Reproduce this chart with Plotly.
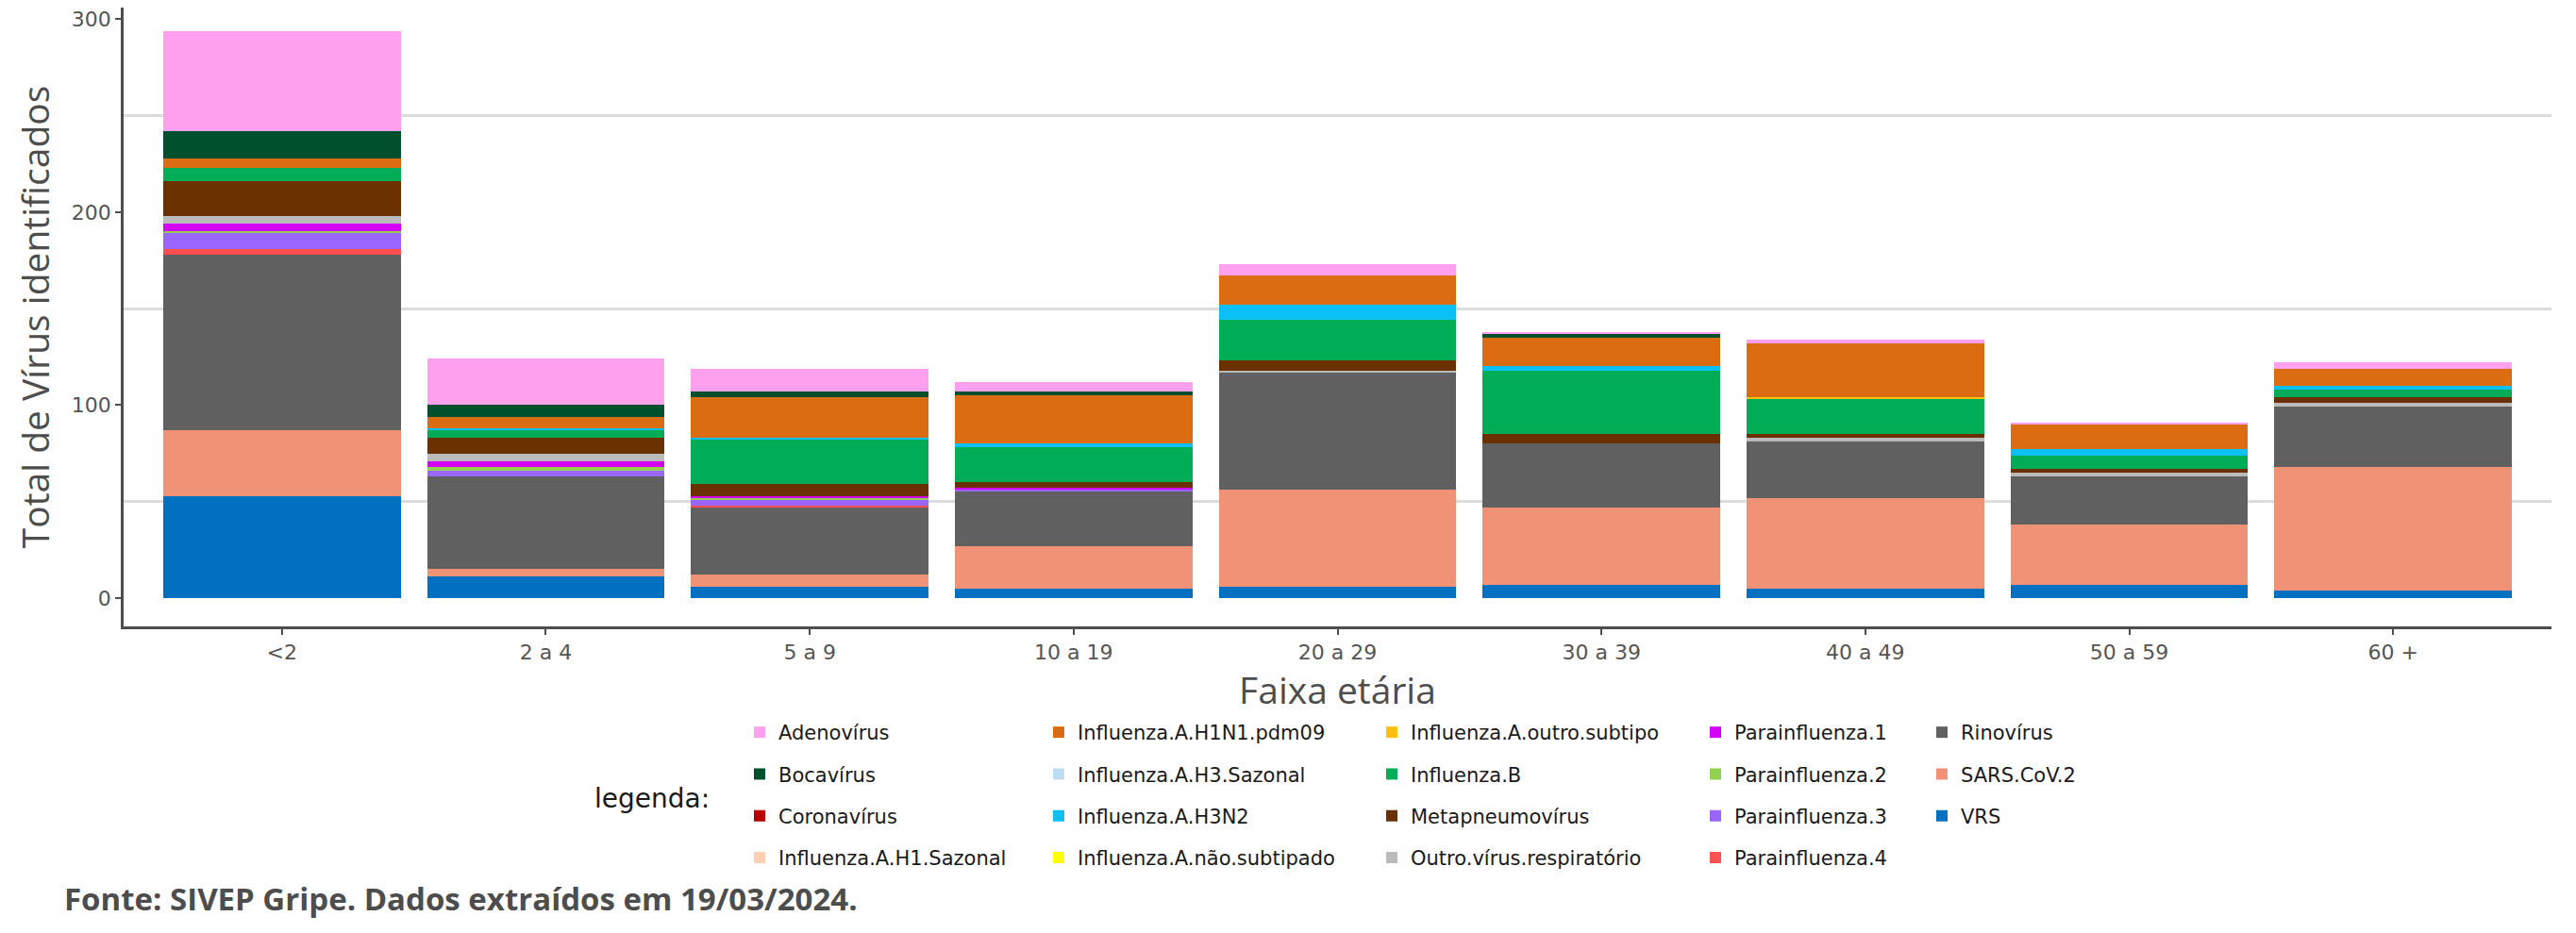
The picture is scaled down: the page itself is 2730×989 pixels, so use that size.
import plotly.graph_objects as go

faixas = ["<2", "2 a 4", "5 a 9", "10 a 19", "20 a 29", "30 a 39", "40 a 49", "50 a 59", "60 +"]

virus = [
    "Adenovírus", "Bocavírus", "Coronavírus", "Influenza.A.H1.Sazonal",
    "Influenza.A.H1N1.pdm09", "Influenza.A.H3.Sazonal", "Influenza.A.H3N2", "Influenza.A.não.subtipado",
    "Influenza.A.outro.subtipo", "Influenza.B", "Metapneumovírus", "Outro.vírus.respiratório",
    "Parainfluenza.1", "Parainfluenza.2", "Parainfluenza.3", "Parainfluenza.4",
    "Rinovírus", "SARS.CoV.2", "VRS",
]

cores = [
    "#FFA0EE", "#004F2D", "#B80000", "#FFD0B0",
    "#DC6C11", "#BCDDF2", "#0BC0F7", "#FFFF00",
    "#FFC010", "#00AC55", "#6A3000", "#BABABA",
    "#D500F9", "#92D050", "#9966FF", "#FF4F4F",
    "#606060", "#F09276", "#0070C0",
]

adenovirus = [52, 24, 12, 5, 6, 1, 2, 1, 3]
bocavirus = [14, 6, 3, 2, 0, 2, 0, 0, 0]
coronavirus = [0, 0, 0, 0, 0, 0, 0, 0, 0]
flu_a_h1_sazonal = [0, 0, 0, 0, 0, 0, 0, 0, 0]
flu_a_h1n1_pdm09 = [5, 6, 21, 25, 15, 15, 28, 13, 9]
flu_a_h3_sazonal = [0, 0, 0, 0, 0, 0, 0, 0, 0]
flu_a_h3n2 = [0, 1, 1, 2, 8, 2, 0, 3, 2]
flu_a_nao_subtipado = [0, 0, 0, 0, 0, 0, 0, 0, 0]
flu_a_outro_subtipo = [0, 0, 0, 0, 0, 0, 1, 0, 0]
flu_b = [7, 4, 23, 18, 21, 33, 18, 7, 4]
metapneumovirus = [18, 8, 6, 3, 5, 5, 2, 2, 3]
outro_virus = [4, 4, 0, 0, 1, 0, 2, 2, 2]
parainfluenza_1 = [4, 3, 1, 1, 0, 0, 0, 0, 0]
parainfluenza_2 = [1, 2, 1, 0, 0, 0, 0, 0, 0]
parainfluenza_3 = [8, 3, 3, 1, 0, 0, 0, 0, 0]
parainfluenza_4 = [3, 0, 1, 0, 0, 0, 0, 0, 0]
rinovirus = [91, 48, 35, 28, 61, 33, 29, 25, 31]
sars_cov_2 = [34, 4, 6, 22, 50, 40, 47, 31, 64]
vrs = [53, 11, 6, 5, 6, 7, 5, 7, 4]

valores = [
    adenovirus, bocavirus, coronavirus, flu_a_h1_sazonal,
    flu_a_h1n1_pdm09, flu_a_h3_sazonal, flu_a_h3n2, flu_a_nao_subtipado,
    flu_a_outro_subtipo, flu_b, metapneumovirus, outro_virus,
    parainfluenza_1, parainfluenza_2, parainfluenza_3, parainfluenza_4,
    rinovirus, sars_cov_2, vrs,
]

# the page body has an 8px default margin: size the figure so it fills the window
OFF = 8
W, H = 2730 - OFF, 989 - OFF
ML, MR, MT, MB = 131 - OFF, 26, 0, 325
PW, PH = W - ML - MR, H - MT - MB

def px_x(X):  # page pixel -> paper x
    return (X - OFF - ML) / PW

def px_y(Y):  # page pixel -> paper y
    return (H - MB - (Y - OFF)) / PH

legend_names = ["legend", "legend2", "legend3", "legend4", "legend5"]

fig = go.Figure()
# ggplot stacks the last level at the bottom
for i in reversed(range(len(virus))):
    col = i // 4
    fig.add_trace(go.Bar(
        x=faixas, y=valores[i], name=virus[i],
        marker=dict(color=cores[i], line=dict(width=0)),
        legend=legend_names[col], legendgroup=virus[i], legendrank=100 + i,
        width=0.9,
    ))

tick_font = dict(family="DejaVu Sans", size=22, color="#555555")
title_font = dict(family="Open Sans", size=39, color="#4D4D4D", weight=500)

legend_text_x = [827, 1144, 1497, 1840, 2080]
legend_common = dict(
    orientation="v", xanchor="left", yanchor="top",
    font=dict(family="DejaVu Sans", size=21, color="#1A1A1A"),
    traceorder="grouped", tracegroupgap=14,
    bgcolor="rgba(0,0,0,0)", borderwidth=0,
)
legend_layout = {}
for k, name in enumerate(legend_names):
    legend_layout[name] = dict(x=px_x(legend_text_x[k] - 42), y=px_y(756), **legend_common)

fig.update_layout(
    width=W, height=H,
    margin=dict(l=ML, r=MR, t=MT, b=MB, autoexpand=False),
    paper_bgcolor="white", plot_bgcolor="white",
    barmode="stack", bargap=0.1,
    showlegend=True,
    xaxis=dict(
        type="category", range=[-0.6, 8.6],
        showline=True, linecolor="#4D4D4D", linewidth=2.5,
        ticks="outside", ticklen=6, tickwidth=2, tickcolor="#4D4D4D",
        tickfont=tick_font, showgrid=False, zeroline=False,
        title=dict(text="Faixa etária", font=title_font, standoff=2),
    ),
    yaxis=dict(
        range=[-14.7, 306], tickmode="array", tickvals=[0, 100, 200, 300],
        showline=True, linecolor="#4D4D4D", linewidth=2.5,
        ticks="outside", ticklen=6, tickwidth=2, tickcolor="#4D4D4D",
        tickfont=tick_font, ticklabeloverflow="allow",
        showgrid=False, zeroline=False,
        minor=dict(tickmode="array", tickvals=[50, 150, 250], showgrid=True,
                   gridcolor="#DCDCDC", gridwidth=2.5, ticks=""),
        title=dict(text="Total de Vírus identificados", font=title_font, standoff=12),
    ),
    **legend_layout,
)

fig.add_annotation(
    text="legenda:", xref="paper", yref="paper",
    x=px_x(754), y=px_y(846), xanchor="right", yanchor="middle",
    showarrow=False, font=dict(family="DejaVu Sans", size=28, color="#1A1A1A"),
)
fig.add_annotation(
    text="<b>Fonte: SIVEP Gripe. Dados extraídos em 19/03/2024.</b>", xref="paper", yref="paper",
    x=px_x(66), y=px_y(953), xanchor="left", yanchor="middle",
    showarrow=False, font=dict(family="Open Sans", size=33, color="#4D4D4D"),
)

fig.write_html("out.html")
